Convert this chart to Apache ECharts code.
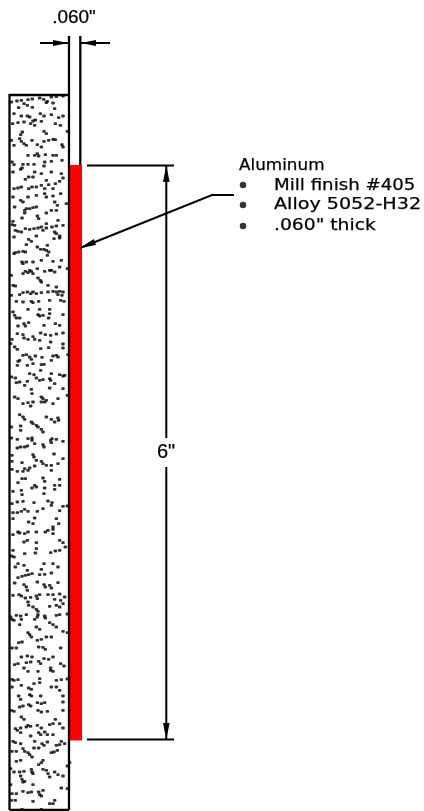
<!DOCTYPE html>
<html><head><meta charset="utf-8">
<style>html,body{margin:0;padding:0;background:#fff}#c{width:424px;height:811px}</style>
<script src="https://cdn.jsdelivr.net/npm/echarts@6/dist/echarts.min.js"></script>
</head><body><div id="c"></div>
<script>
const sheetWidth = 424, sheetHeight = 811;

const wallLines = [
  [[9.5,95],[69,95]], [[9.5,94],[9.5,810]], [[69,36],[69,810]], [[9.5,810],[69,810]],
  [[80.3,36],[80.3,165]]
];
const dimLines = [
  [[40,43],[69,43]], [[81,43],[110,43]],
  [[87,165.5],[174,165.5]], [[87,739.5],[174,739.5]],
  [[166.3,165.5],[166.3,438]], [[166.3,467],[166.3,739.5]],
  [[80,248],[212,195],[234,195]]
];
const arrowHeads = [
  [[68.5,43],[53,40],[53,46]],
  [[80.8,43],[96,40],[96,46]],
  [[166.3,165.5],[163,182],[169.6,182]],
  [[166.3,739.5],[163,723],[169.6,723]],
  [[79.5,248.2],[93.8,239],[96,245]]
];
const aluminumBar = [[68,165,82,740.5]];
const bulletMarks = [[243,185],[243,205],[243,226]];
// text, x, y, font size, horizontal stretch
const textLabels = [
  ['.060"',74,18,19,1,'"Liberation Sans"','center'], ['6"',166,452,20,1,'"Liberation Sans"','center'],
  ['Aluminum',239,165.5,16,1.05,'"DejaVu Sans"','left'], ['Mill finish #405',274,185.5,16,1.137,'"DejaVu Sans"','left'],
  ['Alloy 5052-H32',274,205,16,1.195,'"DejaVu Sans"','left'], ['.060" thick',274,226,16,1.17,'"DejaVu Sans"','left']
];

const cropLeft = 8, cropScale = 3;
const stippleTop92 = [[10,30],[27,27],[40,25],[60,23],[73,21],[95,18],[107,22],[118,28],[130,15],[145,14],[165,12],[48,35],[58,40],[73,46],[32,47],[115,32],[135,33],[140,50],[18,65],[40,72],[58,72],[65,75],[97,65],[108,72],[130,68],[152,77],[165,72],[14,95],[30,92],[48,90],[75,87],[82,84],[68,95],[80,100],[100,88],[142,95],[157,100],[43,120],[38,128],[108,118],[115,125],[178,118],[35,140],[40,148],[10,145],[18,160],[48,155],[55,160],[72,145],[108,148],[122,145],[135,142],[142,143],[88,158],[100,165],[162,158],[165,165],[60,190],[80,190],[88,185],[92,192],[112,188],[135,190],[145,190],[12,210],[18,218],[45,217],[60,217],[78,217],[110,210],[108,222],[130,208],[162,205],[42,228],[38,232],[15,240],[80,240],[100,245],[130,240],[160,245],[62,255],[52,262],[75,255],[115,265],[165,258],[155,268],[122,278],[142,275],[100,280],[85,285],[72,285],[62,290],[18,290],[30,288],[40,285],[110,290],[135,290],[15,315],[38,325],[45,330],[60,315],[85,310],[110,305],[115,315],[135,312],[158,305],[140,330],[148,340],[175,335],[20,345],[55,350],[65,350],[75,347],[85,345],[50,355],[130,355],[145,355]];
const stippleTop212 = [[50,3],[115,3],[88,12],[92,20],[42,18],[15,28],[12,38],[20,40],[115,35],[150,25],[22,55],[30,58],[40,60],[52,50],[65,52],[78,50],[90,48],[100,45],[105,55],[115,48],[132,45],[145,42],[165,40],[140,60],[145,65],[155,72],[18,75],[62,82],[70,88],[85,72],[138,80],[155,78],[55,98],[18,125],[22,122],[32,120],[45,118],[52,120],[88,105],[98,112],[108,112],[118,100],[115,115],[122,120],[118,130],[42,150],[45,155],[55,150],[75,150],[100,145],[135,148],[160,145],[155,165],[88,170],[45,185],[52,178],[60,182],[70,178],[75,185],[65,175],[110,178],[125,175],[130,175],[140,180],[178,170],[10,190],[15,220],[22,222],[90,198],[97,205],[100,210],[120,220],[145,225],[10,250],[35,248],[45,242],[58,240],[68,245],[75,240],[85,245],[100,242],[120,240],[135,238],[145,240],[155,238],[165,240],[150,248],[162,250],[25,268],[45,270],[70,268],[75,272],[92,268],[125,265],[158,265],[168,268],[60,292],[95,292],[125,292],[15,300],[20,310],[25,318],[35,318],[90,308],[95,312],[105,310],[125,305],[165,308],[122,318],[48,335],[62,332],[52,342],[108,340],[142,335],[155,340],[30,342]];
const stippleTop332 = [[28,5],[45,8],[48,18],[75,14],[98,3],[112,8],[128,10],[145,6],[165,3],[60,22],[80,22],[95,25],[12,22],[8,35],[165,36],[128,30],[98,50],[122,47],[165,48],[20,45],[28,52],[45,70],[55,68],[65,75],[70,82],[82,72],[102,76],[135,72],[145,70],[150,75],[180,68],[30,88],[35,85],[28,100],[75,95],[100,98],[108,97],[130,85],[58,100],[65,125],[78,128],[98,115],[130,125],[155,128],[165,132],[170,130],[10,135],[22,138],[25,152],[35,150],[58,148],[85,138],[95,145],[105,143],[125,140],[128,145],[140,155],[50,160],[70,172],[72,185],[125,168],[165,170],[20,195],[30,200],[100,195],[105,200],[115,205],[150,200],[178,190],[45,215],[60,212],[75,210],[68,222],[100,210],[110,210],[135,215],[35,248],[45,255],[50,262],[115,255],[130,262],[150,258],[152,265],[140,270],[10,285],[38,282],[70,270],[75,275],[85,280],[90,285],[38,295],[100,292],[105,300],[10,318],[28,322],[60,320],[72,318],[72,325],[128,325],[132,320],[145,322],[165,328],[28,348],[38,345],[50,345],[58,342],[80,335],[105,338],[108,345],[130,332]];
const stippleTop452 = [[75,8],[78,15],[12,10],[138,6],[12,28],[42,32],[165,20],[85,25],[100,28],[105,35],[115,40],[130,40],[150,35],[65,48],[80,42],[50,50],[28,58],[12,52],[45,58],[60,55],[130,55],[30,92],[42,80],[52,80],[105,78],[110,88],[155,82],[80,100],[72,108],[85,105],[110,108],[140,100],[155,100],[15,118],[40,115],[140,112],[42,128],[108,125],[12,155],[28,150],[45,148],[78,152],[120,147],[132,152],[165,163],[178,162],[15,182],[28,182],[40,178],[50,172],[60,178],[88,178],[105,170],[130,160],[155,176],[15,200],[80,198],[145,200],[62,210],[75,215],[152,215],[135,225],[30,240],[35,243],[50,245],[15,248],[60,240],[85,240],[112,240],[120,235],[135,232],[135,245],[48,270],[58,265],[155,265],[165,272],[172,285],[85,272],[15,295],[85,290],[128,302],[142,297],[155,295],[50,305],[82,303],[10,312],[18,315],[30,335],[22,345],[48,340],[108,335],[135,335],[150,345],[58,355],[100,352]];
const stippleTop572 = [[30,17],[42,13],[52,10],[62,8],[72,5],[95,8],[110,7],[130,3],[48,38],[55,45],[20,33],[108,38],[112,45],[125,40],[130,48],[88,30],[150,32],[58,55],[15,70],[33,68],[40,72],[52,78],[68,76],[85,72],[95,68],[88,80],[120,68],[135,68],[155,66],[170,75],[158,85],[140,82],[60,90],[62,100],[75,105],[85,112],[90,118],[125,103],[145,100],[155,105],[165,95],[8,135],[12,142],[25,130],[38,132],[55,128],[88,135],[90,128],[110,132],[112,138],[145,130],[155,128],[178,126],[18,145],[40,142],[35,158],[80,142],[125,152],[135,158],[145,165],[85,165],[95,172],[165,178],[60,182],[65,188],[70,195],[115,195],[130,195],[32,212],[42,210],[88,205],[100,202],[178,182],[12,228],[25,228],[92,225],[105,226],[112,232],[158,228],[40,255],[58,252],[72,255],[108,260],[122,262],[135,255],[158,275],[168,282],[20,278],[30,275],[55,272],[68,270],[92,268],[98,275],[48,288],[60,298],[90,298],[128,288],[135,298],[128,295],[12,322],[18,325],[30,323],[78,335],[95,320],[145,325],[160,323],[178,321],[12,345],[40,340],[62,348],[70,352],[95,332],[130,345],[145,345],[155,355]];
const stippleTop692 = [[32,12],[38,22],[65,8],[70,12],[98,12],[165,12],[88,32],[100,35],[110,32],[62,38],[68,42],[45,42],[35,45],[165,30],[10,55],[18,58],[90,55],[100,60],[118,58],[165,55],[40,75],[48,82],[142,82],[125,98],[135,95],[60,100],[68,103],[88,100],[100,108],[155,95],[165,108],[22,110],[38,108],[55,105],[28,115],[38,122],[92,122],[98,128],[110,120],[118,128],[135,128],[68,132],[15,148],[22,152],[38,155],[80,148],[102,155],[118,150],[160,148],[155,158],[170,155],[145,160],[12,178],[25,178],[45,170],[50,178],[60,182],[65,188],[72,195],[78,168],[92,168],[108,160],[138,180],[148,175],[130,182],[25,208],[38,205],[105,205],[100,212],[92,218],[185,212],[178,222],[8,230],[18,240],[35,240],[48,238],[70,232],[72,240],[75,245],[105,232],[115,235],[120,245],[140,240],[150,248],[165,252],[38,252],[42,262],[45,270],[50,268],[75,278],[125,255],[8,278],[70,300],[60,302],[45,298],[160,288],[12,305],[25,305],[92,300],[95,308],[100,312],[105,295],[178,290],[22,325],[10,325],[75,328],[125,335],[140,325],[135,335],[42,352],[100,352]];

const stippleCrops = [[92,stippleTop92],[212,stippleTop212],[332,stippleTop332],[452,stippleTop452],[572,stippleTop572],[692,stippleTop692]];
const stippleDots = stippleCrops.flatMap(([top,list]) => list.map(([x,y]) => [cropLeft + x/cropScale, top + y/cropScale]));

const ink = '#000', fillRed = '#ff0000';
const lineSeries = (seg, w) => ({type:'line', data:seg, showSymbol:false, symbol:'none', silent:true, animation:false,
  lineStyle:{color:ink, width:w, cap:'butt', join:'miter'}, z:4});

const chart = echarts.init(document.getElementById('c'), null, {renderer:'canvas'});
chart.setOption({
  animation:false, backgroundColor:'#fff',
  grid:{left:0,right:0,top:0,bottom:0},
  xAxis:{type:'value',min:0,max:sheetWidth,show:false},
  yAxis:{type:'value',min:0,max:sheetHeight,inverse:true,show:false},
  series:[
    {type:'scatter',data:stippleDots,symbol:'roundRect',symbolSize:[3.4,2.8],itemStyle:{color:ink},silent:true,z:2},
    {type:'custom',data:aluminumBar,silent:true,z:3,clip:false,
     renderItem:(p,api)=>{const a=api.coord([api.value(0),api.value(1)]),b=api.coord([api.value(2),api.value(3)]);
       return {type:'rect',shape:{x:a[0],y:a[1],width:b[0]-a[0],height:b[1]-a[1]},style:{fill:fillRed}};}},
    ...wallLines.map(s=>lineSeries(s,2.3)),
    ...dimLines.map(s=>lineSeries(s,2)),
    {type:'custom',data:arrowHeads.map((t,i)=>[i]),silent:true,z:5,clip:false,
     renderItem:(p,api)=>({type:'polygon',shape:{points:arrowHeads[api.value(0)].map(q=>api.coord(q))},style:{fill:ink}})},
    {type:'scatter',data:bulletMarks,symbol:'circle',symbolSize:6.5,itemStyle:{color:ink},silent:true,z:5},
    {type:'custom',data:textLabels.map((t,i)=>[i]),silent:true,z:6,clip:false,
     renderItem:(p,api)=>{const t=textLabels[api.value(0)],c=api.coord([t[1],t[2]]);
       return {type:'text',x:c[0],y:c[1],scaleX:t[4],style:{text:t[0],fill:ink,stroke:ink,lineWidth:0.25,font:t[3]+'px '+t[5],
         textAlign:t[6],textVerticalAlign:'middle'}};}}
  ]
});
</script></body></html>
